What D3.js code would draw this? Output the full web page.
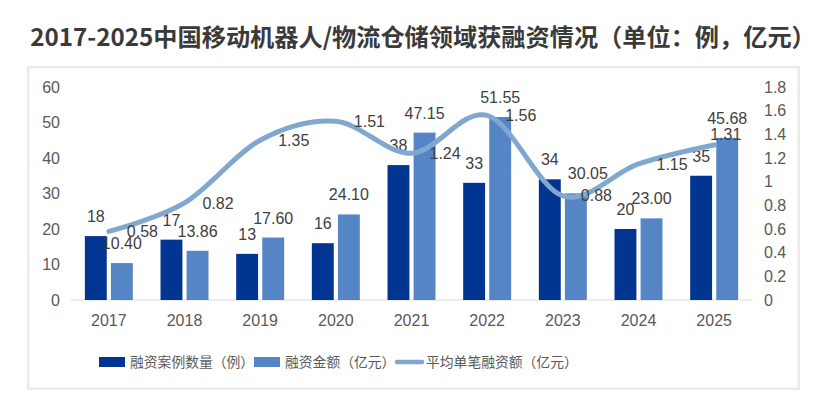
<!DOCTYPE html>
<html>
<head>
<meta charset="utf-8">
<script src="https://cdn.jsdelivr.net/npm/d3@7"></script>
<style>
  body { margin: 0; background: #fff; }
  svg text { font-family: "Liberation Sans", Arial, "Noto Sans CJK SC", sans-serif; }
</style>
</head>
<body>
<div id="chart"></div>
<script>
// data
var years = ["2017", "2018", "2019", "2020", "2021", "2022", "2023", "2024", "2025"];
var dealCounts = [18, 17, 13, 16, 38, 33, 34, 20, 35];
var dealAmounts = [10.40, 13.86, 17.60, 24.10, 47.15, 51.55, 30.05, 23.00, 45.68];
var avgAmounts = [0.58, 0.82, 1.35, 1.51, 1.24, 1.56, 0.88, 1.15, 1.31];
var leftTicks = [0, 10, 20, 30, 40, 50, 60];
var rightTicks = [0, 0.2, 0.4, 0.6, 0.8, 1, 1.2, 1.4, 1.6, 1.8];
var seriesNames = ["融资案例数量（例）", "融资金额（亿元）", "平均单笔融资额（亿元）"];
var title = "2017-2025中国移动机器人/物流仓储领域获融资情况（单位：例，亿元）";

var svgWidth = 831;
var svgHeight = 404;

var colDark = "#003591";
var colMid = "#5585c5";
var colLine = "#7fa7d0";

var margin = { top: 87, right: 79, bottom: 104, left: 71 };
var width = svgWidth - margin.left - margin.right;
var height = 300 - margin.top;

var svg = d3.select("#chart")
  .append("svg")
  .attr("width", svgWidth)
  .attr("height", svgHeight);

// outer frame
svg.append("rect")
  .attr("x", 28.2).attr("y", 67.2)
  .attr("width", 770.5).attr("height", 321.5)
  .attr("fill", "none")
  .attr("stroke", "#ece9ea")
  .attr("stroke-width", 2.5);

svg.append("text")
  .attr("x", 423)
  .attr("y", 46)
  .attr("text-anchor", "middle")
  .style("font-family", "'Noto Sans CJK SC', sans-serif")
  .attr("font-size", "24.2px")
  .attr("font-weight", "bold")
  .attr("fill", "#3a3a3a")
  .text(title);

var chartGroup = svg.append("g")
  .attr("transform", `translate(${margin.left}, ${margin.top})`);

// scales
var x0 = d3.scaleBand()
  .domain(years)
  .range([0, width])
  .paddingInner(0.366)
  .paddingOuter(0.183);

var x1 = d3.scaleBand()
  .domain(["count", "amount"])
  .range([0, x0.bandwidth()])
  .paddingInner(0.16);

var yLeft = d3.scaleLinear().domain([0, 60]).range([height, 0]);
var yRight = d3.scaleLinear().domain([0, 1.8]).range([height, 0]);

// axes
var leftAxis = d3.axisLeft(yLeft).tickValues(leftTicks).tickSize(0).tickPadding(11);
var rightAxis = d3.axisRight(yRight).tickValues(rightTicks).tickSize(0).tickPadding(12)
  .tickFormat(d => String(+d.toFixed(1)));
var bottomAxis = d3.axisBottom(x0).tickSize(0).tickPadding(15);

var gl = chartGroup.append("g").call(leftAxis);
var gr = chartGroup.append("g").attr("transform", `translate(${width}, 0)`).call(rightAxis);
var gb = chartGroup.append("g").attr("transform", `translate(0, ${height})`).call(bottomAxis);

[gl, gr, gb].forEach(function(g) {
  g.select(".domain").remove();
  g.selectAll("text")
    .attr("font-size", "16px")
    .attr("fill", "#595959")
    .style("font-family", "'Liberation Sans', Arial, sans-serif");
});

chartGroup.append("line")
  .attr("x1", 0).attr("x2", width)
  .attr("y1", height).attr("y2", height)
  .attr("stroke", "#d9d9d9")
  .attr("stroke-width", 1);

// rows for drawing
var rows = years.map((y, i) => ({
  year: y, count: dealCounts[i], amount: dealAmounts[i], avg: avgAmounts[i]
}));

// small hand nudges of labels the original moved
var labelNudge = {
  amount: { "2023": [12, 0] },
  avg: { "2025": [-22, -11] }
};

var groups = chartGroup.selectAll(".yr")
  .data(rows)
  .enter()
  .append("g")
  .attr("transform", d => `translate(${x0(d.year)}, 0)`);

groups.append("rect")
  .attr("x", x1("count"))
  .attr("y", d => yLeft(d.count))
  .attr("width", x1.bandwidth())
  .attr("height", d => height - yLeft(d.count))
  .attr("fill", colDark);

groups.append("rect")
  .attr("x", x1("amount"))
  .attr("y", d => yLeft(d.amount))
  .attr("width", x1.bandwidth())
  .attr("height", d => height - yLeft(d.amount))
  .attr("fill", colMid);

// line
var line = d3.line()
  .x(d => x0(d.year) + x0.bandwidth() / 2)
  .y(d => yRight(d.avg))
  .curve(d3.curveCatmullRom.alpha(0));

chartGroup.append("path")
  .datum(rows)
  .attr("d", line)
  .attr("fill", "none")
  .attr("stroke", colLine)
  .attr("stroke-width", 5)
  .attr("stroke-linecap", "round");

// bar labels
groups.append("text")
  .attr("x", x1("count") + x1.bandwidth() / 2)
  .attr("y", d => yLeft(d.count) - 14)
  .attr("text-anchor", "middle")
  .attr("font-size", "16px")
  .attr("fill", "#404040")
  .text(d => d.count);

groups.append("text")
  .attr("x", d => x1("amount") + x1.bandwidth() / 2 + ((labelNudge.amount[d.year] || [0, 0])[0]))
  .attr("y", d => yLeft(d.amount) - 14 + ((labelNudge.amount[d.year] || [0, 0])[1]))
  .attr("text-anchor", "middle")
  .attr("font-size", "16px")
  .attr("fill", "#404040")
  .text(d => d.amount.toFixed(2));

// line labels
chartGroup.selectAll(".avgLabel")
  .data(rows)
  .enter()
  .append("text")
  .attr("class", "avgLabel")
  .attr("x", d => x0(d.year) + x0.bandwidth() / 2 + 18 + ((labelNudge.avg[d.year] || [0, 0])[0]))
  .attr("y", d => yRight(d.avg) + ((labelNudge.avg[d.year] || [0, 0])[1]))
  .attr("dy", "0.35em")
  .attr("font-size", "16px")
  .attr("fill", "#404040")
  .text(d => d.avg.toFixed(2));

// legend
var legend = svg.append("g").attr("transform", "translate(0, 362)");
var legendItems = [
  { name: seriesNames[0], type: "rect", color: colDark, x: 99 },
  { name: seriesNames[1], type: "rect", color: colMid, x: 254 },
  { name: seriesNames[2], type: "line", color: colLine, x: 395 }
];

legendItems.forEach(function(item) {
  if (item.type === "rect") {
    legend.append("rect")
      .attr("x", item.x).attr("y", -5)
      .attr("width", 26).attr("height", 10)
      .attr("fill", item.color);
  } else {
    legend.append("line")
      .attr("x1", item.x + 2).attr("x2", item.x + 27)
      .attr("y1", 0).attr("y2", 0)
      .attr("stroke", item.color)
      .attr("stroke-width", 4.5)
      .attr("stroke-linecap", "round");
  }
  legend.append("text")
    .attr("x", item.x + 31)
    .attr("y", 0)
    .attr("dy", "0.35em")
    .attr("font-size", "13.8px")
    .attr("fill", "#595959")
    .style("font-family", "'Noto Sans CJK SC', sans-serif")
    .text(item.name);
});
</script>
</body>
</html>
